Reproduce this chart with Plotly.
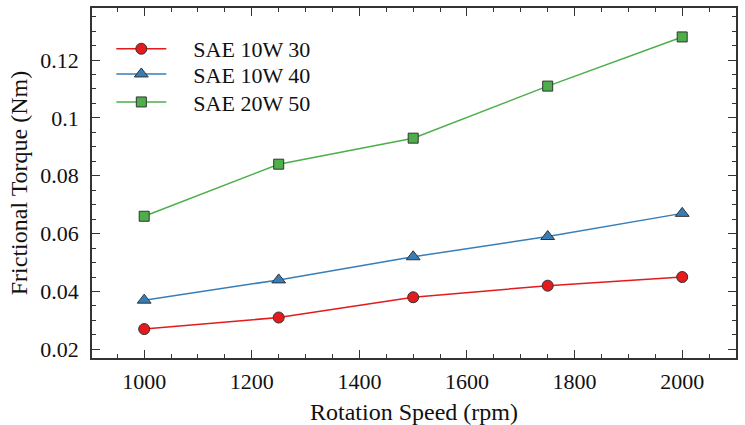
import plotly.graph_objects as go

speed = [1000, 1250, 1500, 1750, 2000]
sae_10w30 = [0.027, 0.031, 0.038, 0.042, 0.045]
sae_10w40 = [0.037, 0.044, 0.052, 0.059, 0.067]
sae_20w50 = [0.066, 0.084, 0.093, 0.111, 0.128]
names = ["SAE 10W 30", "SAE 10W 40", "SAE 20W 50"]

series = [
    (sae_10w30, "#e41a1c", "circle", 11, "legend"),
    (sae_10w40, "#377eb8", "triangle-up", 12, "legend2"),
    (sae_20w50, "#4daf4a", "square", 10, "legend3"),
]

fig = go.Figure()
for name, (vals, col, sym, sz, lg) in zip(names, series):
    fig.add_trace(go.Scatter(
        x=speed, y=vals, mode="lines+markers", name="\u00a0\u00a0\u00a0\u00a0" + name,
        line=dict(color=col, width=1.5), legend=lg,
        marker=dict(symbol=sym, size=sz, color=col, line=dict(color="#333333", width=1)),
    ))

fam = "Liberation Serif, Times New Roman, serif"
tick_font = dict(family=fam, size=22, color="#111111")
title_font = dict(family=fam, size=24, color="#111111")
legend_font = dict(family=fam, size=22, color="#111111")
axis_common = dict(
    showgrid=False, zeroline=False, showline=True, linecolor="#333333", linewidth=1.5,
    mirror="ticks", ticks="inside", ticklen=8, tickwidth=1.2, tickcolor="#333333",
    tickfont=tick_font, automargin=False,
)
fig.update_xaxes(range=[903, 2100], dtick=200, tick0=1000, ticklabelstandoff=3,
                 minor=dict(dtick=50, ticks="inside", ticklen=4, tickcolor="#333333", tickwidth=1.2),
                 title=dict(text="Rotation Speed (rpm)", font=title_font, standoff=12), **axis_common)
fig.update_yaxes(range=[0.017, 0.138], dtick=0.02, tick0=0.02, tickformat="~g", ticklabelstandoff=7,
                 minor=dict(dtick=0.005, ticks="inside", ticklen=4, tickcolor="#333333", tickwidth=1.2),
                 title=dict(text="Frictional Torque (Nm)", font=title_font, standoff=6), **axis_common)

leg_common = dict(x=0.03, xanchor="left", yanchor="middle", bgcolor="rgba(0,0,0,0)",
                  font=legend_font, itemwidth=50)
fig.update_layout(
    width=745, height=425, margin=dict(l=92, r=9, t=8, b=67),
    paper_bgcolor="white", plot_bgcolor="white", font=title_font,
    legend=dict(y=0.883, **leg_common),
    legend2=dict(y=0.811, **leg_common),
    legend3=dict(y=0.731, **leg_common),
    showlegend=True,
)
fig.write_html("out.html")
